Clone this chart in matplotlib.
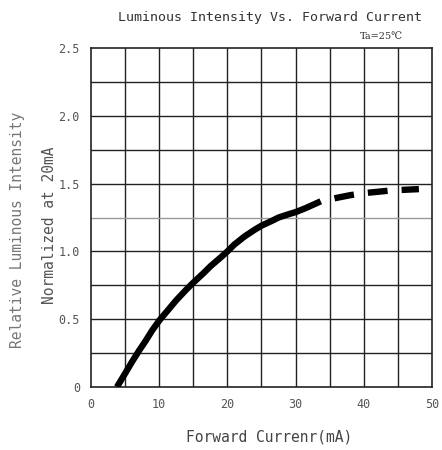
import matplotlib.pyplot as plt
import numpy as np

# ---------------------------------------------------------------- #
#                 DATA
# ---------------------------------------------------------------- #
corriente_solida = [3.8, 5.0, 6.0, 7.0, 8.0, 9.0, 10.0, 11.5, 12.5, 14.0, 15.0, 16.5,
                    17.5, 19.0, 20.0, 21.0, 22.5, 24.0, 25.0, 26.5, 27.5, 29.0, 30.0,
                    31.5, 33.7]
intensidad_solida = [0.0, 0.10, 0.185, 0.265, 0.34, 0.42, 0.49, 0.58, 0.64, 0.72, 0.77,
                     0.84, 0.89, 0.955, 1.0, 1.05, 1.11, 1.16, 1.19, 1.225, 1.25, 1.275,
                     1.29, 1.32, 1.37]

corriente_guiones = [33.7, 36.0, 38.0, 40.0, 42.0, 44.0, 46.0, 48.1]
intensidad_guiones = [1.37, 1.395, 1.415, 1.43, 1.44, 1.45, 1.455, 1.46]

x_ticks = [0, 10, 20, 30, 40, 50]
x_labels = ["0", "10", "20", "30", "40", "50"]
y_ticks = [0, 0.5, 1.0, 1.5, 2.0, 2.5]
y_labels = ["0", "0.5", "1.0", "1.5", "2.0", "2.5"]

MONO = "DejaVu Sans Mono"

# ---------------------------------------------------------------- #
#                            FIGURE
# ---------------------------------------------------------------- #
fig = plt.figure(figsize=(4.42, 4.5), dpi=100)
ax = fig.add_axes([0.206, 0.14, 0.771, 0.753])

ax.set_xlim(0, 50)
ax.set_ylim(0, 2.5)

# grid every 5 mA and every 0.25
for xv in np.arange(5, 50, 5):
    ax.axvline(xv, color="#222222", lw=1.0, zorder=1)
for yv in np.arange(0.25, 2.5, 0.25):
    # the 1.25 line is printed faint in the original
    col = "#999999" if abs(yv - 1.25) < 1e-6 else "#222222"
    ax.axhline(yv, color=col, lw=1.0, zorder=1)

ax.plot(corriente_solida, intensidad_solida, color="black", lw=4.6,
        solid_capstyle="butt", solid_joinstyle="round", zorder=3)
ax.plot(corriente_guiones, intensidad_guiones, color="black", lw=4.6,
        linestyle=(3.1, (3.1, 2.2)), dash_capstyle="butt", zorder=3)

for s in ax.spines.values():
    s.set_color("#222222")
    s.set_linewidth(1.2)

ax.set_xticks(x_ticks)
ax.set_xticklabels(x_labels, family=MONO)
ax.set_yticks(y_ticks)
ax.set_yticklabels(y_labels, family=MONO)
ax.tick_params(length=0, labelsize=8.5, colors="#555555", pad=8)

fig.text(0.61, 0.962, "Luminous Intensity Vs. Forward Current",
         ha="center", va="center", fontsize=9.5, color="#333333", family=MONO)
fig.text(0.862, 0.918, "Ta=25\u2103", ha="center", va="center",
         fontsize=7, color="#333333", family="DejaVu Serif")

fig.text(0.61, 0.028, "Forward Currenr(mA)", ha="center", va="center",
         fontsize=10.5, color="#444444", family=MONO)
fig.text(0.04, 0.49, "Relative Luminous Intensity", rotation=90,
         ha="center", va="center", fontsize=10.5, color="#777777", family=MONO)
fig.text(0.113, 0.5, "Normalized at 20mA", rotation=90,
         ha="center", va="center", fontsize=10.5, color="#555555", family=MONO)

fig.savefig("out.png", dpi=100)
